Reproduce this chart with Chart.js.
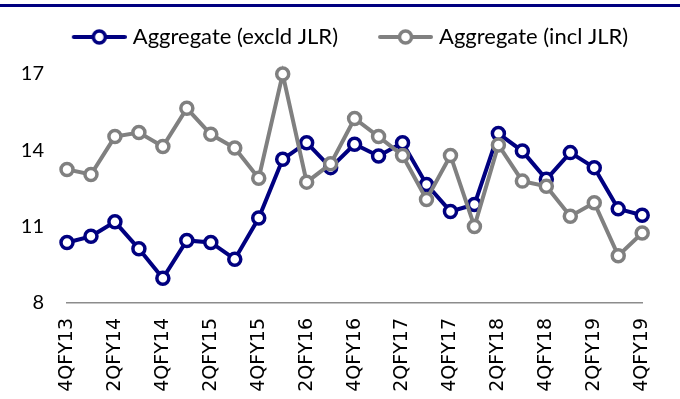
<!DOCTYPE html>
<html>
<head>
<meta charset="utf-8">
<script src="https://cdn.jsdelivr.net/npm/chart.js@4.4.1/dist/chart.umd.min.js"></script>
<style>
  html, body { margin: 0; padding: 0; background: #fff; }
  #wrap { width: 680px; height: 399px; }
</style>
</head>
<body>
<div id="wrap"><canvas id="myChart" width="680" height="399"></canvas></div>
<script>
const quarters = [
    '4QFY13', '1QFY14', '2QFY14', '3QFY14', '4QFY14', '1QFY15', '2QFY15', '3QFY15', '4QFY15',
    '1QFY16', '2QFY16', '3QFY16', '4QFY16', '1QFY17', '2QFY17', '3QFY17', '4QFY17',
    '1QFY18', '2QFY18', '3QFY18', '4QFY18', '1QFY19', '2QFY19', '3QFY19', '4QFY19'
];
const excldJLR = [
    10.38, 10.62, 11.19, 10.13, 8.97, 10.46, 10.38, 9.72, 11.34,
    13.65, 14.3, 13.32, 14.24, 13.78, 14.3, 12.66, 11.6,
    11.87, 14.66, 13.97, 12.86, 13.91, 13.32, 11.7, 11.45
];
const inclJLR = [
    13.25, 13.05, 14.54, 14.7, 14.15, 15.65, 14.63, 14.09, 12.9,
    17.0, 12.75, 13.47, 15.25, 14.54, 13.8, 12.07, 13.8,
    11.01, 14.21, 12.79, 12.59, 11.41, 11.94, 9.86, 10.75
];
const yTicks = [8, 11, 14, 17];
const seriesNames = ['Aggregate (excld JLR)', 'Aggregate (incl JLR)'];

const NAVY = '#000080';
const GREY = '#808080';

// legend icon: line with a hollow circle, blank space on the left for item spacing
function makeIcon(color) {
    const c = document.createElement('canvas');
    c.width = 90;
    c.height = 20;
    const g = c.getContext('2d');
    g.strokeStyle = color;
    g.lineCap = 'round';
    g.lineWidth = 4;
    g.beginPath();
    g.moveTo(37, 10);
    g.lineTo(88, 10);
    g.stroke();
    g.beginPath();
    g.arc(62.5, 10, 6, 0, Math.PI * 2);
    g.fillStyle = '#fff';
    g.fill();
    g.lineWidth = 3.5;
    g.stroke();
    return c;
}

const topRule = {
    id: 'topRule',
    beforeDraw(chart) {
        const c = chart.ctx;
        c.save();
        c.fillStyle = NAVY;
        c.fillRect(0, 4, chart.width, 3);
        c.restore();
    }
};

const legendHeight = {
    id: 'legendHeight',
    beforeInit(chart) {
        const fit = chart.legend.fit;
        chart.legend.fit = function () {
            fit.bind(chart.legend)();
            this.height = 58;
        };
    }
};

const ctx = document.getElementById('myChart').getContext('2d');

const myChart = new Chart(ctx, {
    type: 'line',
    data: {
        labels: quarters,
        datasets: [
            {
                label: seriesNames[0],
                data: excldJLR,
                borderColor: NAVY,
                borderWidth: 4,
                pointRadius: 6,
                pointHoverRadius: 6,
                pointBorderWidth: 3.5,
                pointBackgroundColor: '#fff',
                pointBorderColor: NAVY,
                tension: 0,
                clip: false,
                order: 1,
            },
            {
                label: seriesNames[1],
                data: inclJLR,
                borderColor: GREY,
                borderWidth: 4,
                pointRadius: 6,
                pointHoverRadius: 6,
                pointBorderWidth: 3.5,
                pointBackgroundColor: '#fff',
                pointBorderColor: GREY,
                tension: 0,
                clip: false,
                order: 0,
            },
        ],
    },
    options: {
        responsive: false,
        animation: false,
        devicePixelRatio: 1,
        layout: { padding: { left: 0, right: 10, top: 16, bottom: 0 } },
        plugins: {
            tooltip: { enabled: false },
            legend: {
                display: true,
                position: 'top',
                labels: {
                    usePointStyle: true,
                    pointStyleWidth: 80,
                    padding: 10,
                    color: '#000',
                    font: { family: 'Lato', size: 22 },
                    generateLabels(chart) {
                        return chart.data.datasets.map((ds, i) => ({
                            text: ds.label,
                            datasetIndex: i,
                            pointStyle: makeIcon(ds.borderColor),
                            fillStyle: '#fff',
                            strokeStyle: ds.borderColor,
                            lineWidth: 0,
                            hidden: false,
                            fontColor: '#000',
                        }));
                    },
                },
            },
        },
        scales: {
            x: {
                grid: { display: false, drawTicks: false },
                border: { display: true, color: '#8c8c8c', width: 1.5 },
                ticks: {
                    autoSkip: false,
                    maxRotation: 90,
                    minRotation: 90,
                    padding: 15,
                    color: '#000',
                    font: { family: 'DejaVu Sans', size: 19 },
                    callback: function (value, index) {
                        return index % 2 === 0 ? quarters[index] : '';
                    },
                },
                afterFit(scale) {
                    scale.height = 96;
                },
            },
            y: {
                min: 8,
                max: 17,
                grid: { display: false, drawTicks: false },
                border: { display: false },
                afterBuildTicks(scale) {
                    scale.ticks = yTicks.map((v) => ({ value: v }));
                },
                ticks: {
                    padding: 23,
                    color: '#000',
                    font: { family: 'Lato', size: 20 },
                },
                afterFit(scale) {
                    scale.width = 67;
                },
            },
        },
    },
    plugins: [topRule, legendHeight],
});
</script>
</body>
</html>
